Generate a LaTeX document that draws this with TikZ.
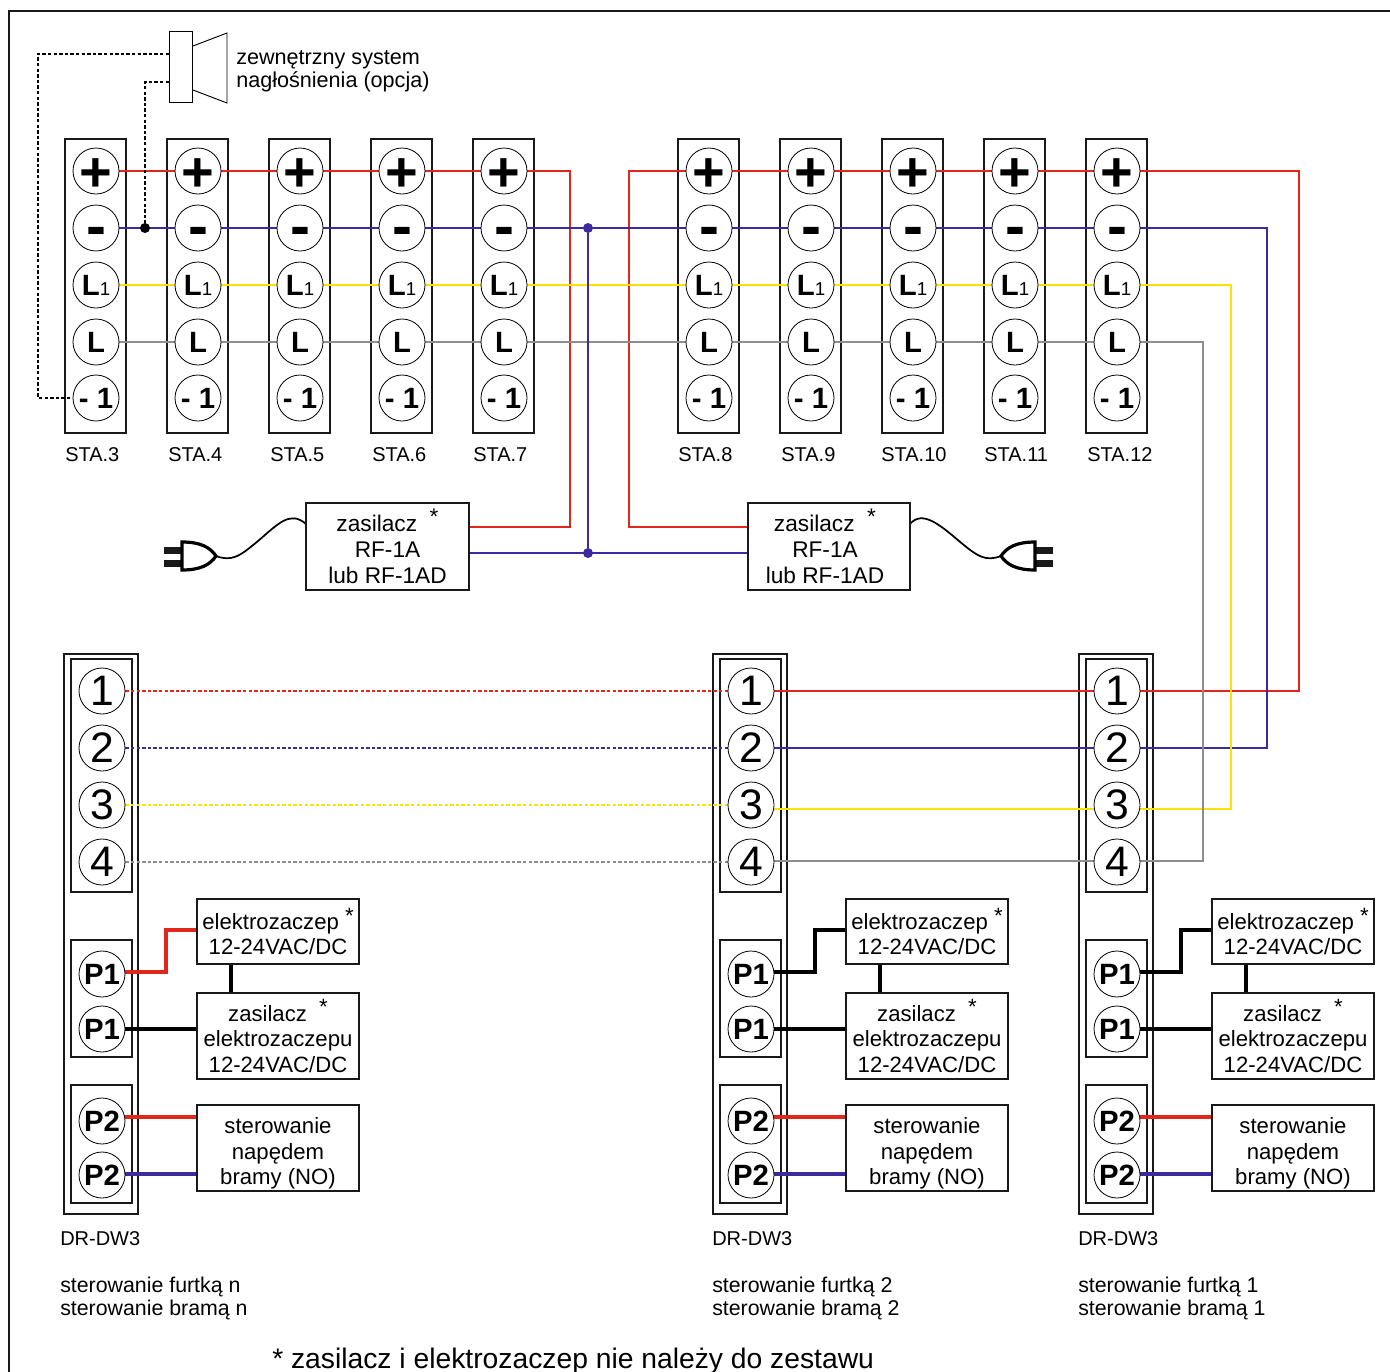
\documentclass[tikz,border=0pt]{standalone}
\usepackage{fontspec}
\setmainfont{Liberation Sans}
\usetikzlibrary{backgrounds,calc}
\pgfdeclarelayer{edgelayer}
\pgfdeclarelayer{nodelayer}
\pgfsetlayers{edgelayer,nodelayer,main}
\definecolor{wirered}{HTML}{E1261C}
\definecolor{wireblue}{HTML}{3C2A9E}
\definecolor{wireyellow}{HTML}{FFE100}
\definecolor{wiregray}{HTML}{8E8E8E}
\tikzstyle{none}=[inner sep=0pt]
\tikzstyle{term}=[circle,draw=black,line width=0.6pt,fill=white,inner sep=0pt,minimum size=34.5pt]
\tikzstyle{strip}=[draw=black!90,line width=1.9pt,inner sep=0pt]
\tikzstyle{unit}=[draw=black!90,line width=1.6pt,fill=white,inner sep=0pt,minimum width=122pt,align=center,font=\fontsize{16.6}{18.9}\selectfont]
\tikzstyle{psu}=[style=unit,minimum height=65.25pt,font=\fontsize{17}{19.6}\selectfont]
\tikzstyle{lab}=[inner sep=0pt,anchor=west,align=left,font=\fontsize{15}{17.25}\selectfont]
\tikzstyle{wire}=[line width=2pt]
\tikzstyle{dotwire}=[line width=2.2pt,dash pattern=on 2.5pt off 1.7pt]
\tikzstyle{thick wire}=[line width=3.2pt]
\tikzstyle{joint}=[circle,inner sep=0pt,minimum size=7.5pt]
\tikzset{pics/plug/.style={code={
	\fill[black!90] (-52,-9) rectangle (-34,-2);
	\fill[black!90] (-52,4) rectangle (-34,11);
	\draw[line width=2.4pt,fill=white] (-34,-14) .. controls (-16,-14) and (-6,-9) .. (0,0) .. controls (-6,9) and (-16,14) .. (-34,14) -- cycle;
}}}
\newcommand{\bigbold}{\fontsize{22}{22}\selectfont\bfseries}
\newcommand{\staropt}{\raisebox{5pt}{*}}
\newcommand{\midbox}[2]{\raisebox{-#1}[0pt][0pt]{#2}}
\begin{document}
\begin{tikzpicture}[x=0.75pt,y=-0.75pt]
	\useasboundingbox (0,0) rectangle (1390,1372);
	\begin{pgfonlayer}{edgelayer}
		\draw[line width=1.9pt,black!90] (9,1372) -- (9,11) -- (1390,11);
		% station strips
		\foreach \n/\x/\lx in {3/96/65,4/198/168,5/300/270,6/402/372,7/504/473,8/709/678,9/811/781,10/913/881,11/1015/984,12/1117/1087} {
			\node [style=strip,minimum width=45.75pt,minimum height=220.5pt] (b\n) at (\x-0.5,286) {};
			\node [style=lab] (n\n) at (\lx,455) {STA.\n};
		}
		% door modules
		\foreach \n/\o in {1/0,2/649,3/1015} {
			\node [style=strip,fill=white,minimum width=55.5pt,minimum height=420pt] (m\n) at (101+\o,934) {};
			\node [style=strip,minimum width=45.75pt,minimum height=174.75pt] (ma\n) at (101.5+\o,775.5) {};
			\node [style=strip,minimum width=45.75pt,minimum height=87.75pt] (mb\n) at (101.5+\o,998.5) {};
			\node [style=strip,minimum width=45.75pt,minimum height=88.5pt] (mc\n) at (101.5+\o,1144) {};
		}
	\end{pgfonlayer}
	\begin{pgfonlayer}{nodelayer}
		\foreach \n/\x in {3/96,4/198,5/300,6/402,7/504,8/709,9/811,10/913,11/1015,12/1117} {
			\node [style=term,font=\fontsize{42}{42}\selectfont\bfseries] (s\n-1) at (\x,171) {\midbox{15.2pt}{+}};
			\node [style=term,font=\fontsize{45}{45}\selectfont\bfseries] (s\n-2) at (\x,228) {\midbox{13.5pt}{-}};
			\node [style=term] (s\n-3) at (\x,285) {{\bigbold L}{\fontsize{14}{14}\selectfont 1}};
			\node [style=term,font=\bigbold] (s\n-4) at (\x,342) {L};
			\node [style=term,font=\bigbold] (s\n-5) at (\x,398) {- 1};
		}
		\foreach \n/\o in {1/0,2/649,3/1015} {
			\node [style=term,font=\fontsize{32}{32}\selectfont] (d\n-1) at (102+\o,691) {1};
			\node [style=term,font=\fontsize{32}{32}\selectfont] (d\n-2) at (102+\o,748) {2};
			\node [style=term,font=\fontsize{32}{32}\selectfont] (d\n-3) at (102+\o,805) {3};
			\node [style=term,font=\fontsize{32}{32}\selectfont] (d\n-4) at (102+\o,862) {4};
			\node [style=term,font=\bigbold] (d\n-5) at (102+\o,974) {P1};
			\node [style=term,font=\bigbold] (d\n-6) at (102+\o,1029) {P1};
			\node [style=term,font=\bigbold] (d\n-7) at (102+\o,1121) {P2};
			\node [style=term,font=\bigbold] (d\n-8) at (102+\o,1175) {P2};
			\node [style=unit,minimum height=48.75pt] (e\n) at (278+\o,931.5) {elektrozaczep \staropt\\12-24VAC/DC};
			\node [style=unit,minimum height=64.5pt] (f\n) at (278+\o,1036) {zasilacz \ \staropt\\elektrozaczepu\\12-24VAC/DC};
			\node [style=unit,minimum height=64.5pt] (g\n) at (278+\o,1148) {\rule{0pt}{20pt}sterowanie\\napędem\\bramy (NO)};
		}
		\node [style=lab] (l1) at (60,1239) {DR-DW3};
		\node [style=lab] (l2) at (712,1239) {DR-DW3};
		\node [style=lab] (l3) at (1078,1239) {DR-DW3};
		\node [style=lab,font=\fontsize{16}{17.25}\selectfont] (t1) at (60,1298.5) {sterowanie furtką n\\sterowanie bramą n};
		\node [style=lab,font=\fontsize{16}{17.25}\selectfont] (t2) at (712,1298.5) {sterowanie furtką 2\\sterowanie bramą 2};
		\node [style=lab,font=\fontsize{16}{17.25}\selectfont] (t3) at (1078,1298.5) {sterowanie furtką 1\\sterowanie bramą 1};
		\node [style=lab,font=\fontsize{21.2}{24}\selectfont] (foot) at (272,1361) {* zasilacz i elektrozaczep nie należy do zestawu};
		\node [style=psu] (a) at (387.5,546.5) {zasilacz \ \staropt\\RF-1A\\lub RF-1AD};
		\node [style=psu] (c) at (829,546.5) {zasilacz \ \staropt\kern6pt\\RF-1A\kern6pt\\lub RF-1AD\kern6pt};
		\node [style=joint,fill=black] (j1) at (145,228) {};
		\node [style=joint,fill=wireblue] (j2) at (588,228) {};
		\node [style=joint,fill=wireblue] (j3) at (588,553) {};
		% speaker
		\node [draw=black,line width=0.7pt,fill=white,inner sep=0pt,minimum width=17.25pt,minimum height=53.25pt] (spk) at (180.5,66.5) {};
		\draw[line width=0.7pt,fill=white] (193,46) -- (227,33) -- (227,103) -- (193,90);
		\node [style=lab,font=\fontsize{16.2}{17.25}\selectfont] (spktext) at (236,71.5) {zewnętrzny system\\nagłośnienia (opcja)};
		% plugs
		\coordinate (p1) at (216,556);
		\coordinate (p2) at (1001,556);
		\pic at (p1) {plug};
		\pic[xscale=-1] at (p2) {plug};
	\end{pgfonlayer}
	\begin{pgfonlayer}{edgelayer}
		\coordinate (r1) at (570,527);
		\coordinate (r2) at (629,527);
		\coordinate (r3) at (1299,691);
		\coordinate (u3) at (1267,748);
		\coordinate (y3) at (1231,809);
		\coordinate (g3) at (1203,861);
		\coordinate (k1) at (169,54);
		\coordinate (k2) at (38,54);
		\coordinate (k3) at (169,82);
		\coordinate (q1) at (306,524);
		\coordinate (q2) at (910,524);
		% station buses
		\draw[style=wire,wirered] (s3-1) -- (s7-1) -| (r1) -- (r1 -| a.east);
		\draw[style=wire,wirered] (s12-1) -- (s8-1) -| (r2) -- (r2 -| c.west);
		\draw[style=wire,wirered] (s12-1) -| (r3) -- (d2-1);
		\draw[style=wire,wireblue] (s3-2) -- (s12-2) -| (u3) -- (d2-2);
		\draw[style=wire,wireyellow] (s3-3) -- (s12-3) -| (y3) -- (y3 -| d2-3);
		\draw[style=wire,wiregray] (s3-4) -- (s12-4) -| (g3) -- (g3 -| d2-4);
		\draw[style=wire,wireblue] (j2) -- (j3);
		\draw[style=wire,wireblue] (a.east |- j3) -- (c.west |- j3);
		% optional speaker
		\draw[style=dotwire] (k1) -- (k2) |- (s3-5);
		\draw[style=dotwire] (k3) -| (j1);
		% mains leads
		\draw[line width=1.3pt] (p1) .. controls (232,562) and (240,556) .. (258,541) .. controls (278,524) and (290,510) .. (q1);
		\draw[line width=1.3pt] (p2) .. controls (985,562) and (977,556) .. (959,541) .. controls (939,524) and (922,510) .. (q2);
		% further modules
		\draw[style=dotwire,wirered] (d1-1) -- (d2-1);
		\draw[style=dotwire,wireblue] (d1-2) -- (d2-2);
		\draw[style=dotwire,wireyellow] (d1-3) -- (d2-3);
		\draw[style=dotwire,wiregray] (d1-4) -- (d2-4);
		\foreach \n/\o/\col in {1/0/wirered,2/649/black,3/1015/black} {
			\coordinate (qa\n) at (166+\o,972);
			\coordinate (qb\n) at (166+\o,930);
			\coordinate (v\n) at (231+\o,980);
			\coordinate (wa\n) at (196+\o,1117);
			\coordinate (wb\n) at (196+\o,1174);
			\draw[style=thick wire,\col] (qa\n -| d\n-5) -- (qa\n) -- (qb\n) -- (qb\n -| e\n.west);
			\draw[style=thick wire] (d\n-6) -- (f\n.west |- d\n-6);
			\draw[style=thick wire] (v\n |- e\n.south) -- (v\n |- f\n.north);
			\draw[style=thick wire,wirered] (wa\n -| d\n-7) -- (wa\n);
			\draw[style=thick wire,wireblue] (wb\n -| d\n-8) -- (wb\n);
		}
	\end{pgfonlayer}
\end{tikzpicture}
\end{document}
